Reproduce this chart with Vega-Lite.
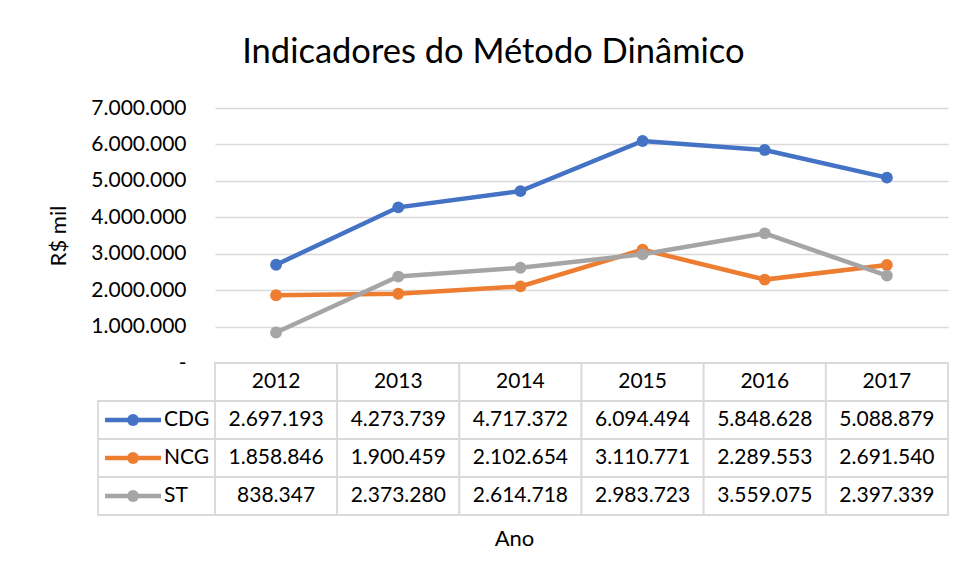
{
  "$schema": "https://vega.github.io/schema/vega-lite/v6.json",
  "padding": {"left": 47, "top": 34, "right": 16, "bottom": 10},
  "background": "white",
  "datasets": {
    "vals": [
      {"series": "CDG", "year": 2012, "value": 2697193},
      {"series": "CDG", "year": 2013, "value": 4273739},
      {"series": "CDG", "year": 2014, "value": 4717372},
      {"series": "CDG", "year": 2015, "value": 6094494},
      {"series": "CDG", "year": 2016, "value": 5848628},
      {"series": "CDG", "year": 2017, "value": 5088879},
      {"series": "NCG", "year": 2012, "value": 1858846},
      {"series": "NCG", "year": 2013, "value": 1900459},
      {"series": "NCG", "year": 2014, "value": 2102654},
      {"series": "NCG", "year": 2015, "value": 3110771},
      {"series": "NCG", "year": 2016, "value": 2289553},
      {"series": "NCG", "year": 2017, "value": 2691540},
      {"series": "ST", "year": 2012, "value": 838347},
      {"series": "ST", "year": 2013, "value": 2373280},
      {"series": "ST", "year": 2014, "value": 2614718},
      {"series": "ST", "year": 2015, "value": 2983723},
      {"series": "ST", "year": 2016, "value": 3559075},
      {"series": "ST", "year": 2017, "value": 2397339}
    ]
  },
  "title": {
    "text": "Indicadores do Método Dinâmico",
    "font": "Lato",
    "fontSize": 34.5,
    "fontWeight": "normal",
    "color": "#000000",
    "anchor": "middle",
    "offset": 27,
    "dx": -5
  },
  "bounds": "flush",
  "spacing": 0,
  "vconcat": [
    {
      "width": 733,
      "height": 255,
      "data": {"name": "vals"},
      "encoding": {
        "x": {"field": "year", "type": "quantitative", "scale": {"domain": [2011.5, 2017.5], "nice": false, "zero": false}, "axis": null},
        "y": {
          "field": "value", "type": "quantitative",
          "scale": {"domain": [0, 7000000], "nice": false},
          "axis": {
            "title": "R$ mil",
            "values": [0, 1000000, 2000000, 3000000, 4000000, 5000000, 6000000, 7000000],
            "labelExpr": "datum.value == 0 ? '-' : replace(format(datum.value, ','), regexp(',', 'g'), '.')",
            "grid": true, "gridColor": "#d9d9d9", "gridWidth": 1.3,
            "domain": false, "ticks": false,
            "labelPadding": 29, "labelFont": "Lato", "labelFontSize": 21, "labelColor": "#000000",
            "titleFont": "Lato", "titleFontSize": 22, "titleFontWeight": "normal", "titleColor": "#000000", "titlePadding": 20
          }
        },
        "color": {"field": "series", "type": "nominal", "scale": {"domain": ["CDG", "NCG", "ST"], "range": ["#4472C4", "#ED7D31", "#A5A5A5"]}, "legend": null}
      },
      "layer": [
        {"mark": {"type": "line", "strokeWidth": 4.5}},
        {"mark": {"type": "point", "filled": true, "size": 140, "opacity": 1}}
      ]
    },
    {
      "width": 733,
      "height": 152,
      "data": {"name": "vals"},
      "layer": [
        {
          "transform": [
            {"aggregate": [{"op": "count", "as": "n"}], "groupby": ["year"]},
            {"calculate": "datum.year - 0.5", "as": "x0"},
            {"calculate": "datum.year + 0.5", "as": "x1"},
            {"calculate": "'hdr'", "as": "row"}
          ],
          "mark": {"type": "rect", "fill": "white", "stroke": "#d9d9d9", "strokeWidth": 1.8},
          "encoding": {
            "x": {"field": "x0", "type": "quantitative", "scale": {"domain": [2011.5, 2017.5], "nice": false, "zero": false},
                  "axis": {"title": "Ano", "labels": false, "ticks": false, "domain": false, "grid": false, "titleX": 299, "titleY": 30, "titleBaseline": "alphabetic", "titleAlign": "center", "titleFont": "Lato", "titleFontSize": 22, "titleFontWeight": "normal", "titleColor": "#000000"}},
            "x2": {"field": "x1"},
            "y": {"field": "row", "type": "nominal", "scale": {"domain": ["hdr", "CDG", "NCG", "ST"], "paddingInner": 0, "paddingOuter": 0}, "axis": null}
          }
        },
        {
          "transform": [
            {"calculate": "datum.year - 0.5", "as": "x0"},
            {"calculate": "datum.year + 0.5", "as": "x1"}
          ],
          "mark": {"type": "rect", "fill": "white", "stroke": "#d9d9d9", "strokeWidth": 1.8},
          "encoding": {
            "x": {"field": "x0", "type": "quantitative",
                  "axis": {"title": "Ano", "labels": false, "ticks": false, "domain": false, "grid": false, "titleX": 299, "titleY": 30, "titleBaseline": "alphabetic", "titleAlign": "center", "titleFont": "Lato", "titleFontSize": 22, "titleFontWeight": "normal", "titleColor": "#000000"}},
            "x2": {"field": "x1"},
            "y": {"field": "series", "type": "nominal", "axis": null}
          }
        },
        {
          "transform": [{"aggregate": [{"op": "count", "as": "n"}], "groupby": ["series"]}],
          "mark": {"type": "rect", "fill": "white", "stroke": "#d9d9d9", "strokeWidth": 1.8},
          "encoding": {
            "x": {"datum": 2010.542, "type": "quantitative",
                  "axis": {"title": "Ano", "labels": false, "ticks": false, "domain": false, "grid": false, "titleX": 299, "titleY": 30, "titleBaseline": "alphabetic", "titleAlign": "center", "titleFont": "Lato", "titleFontSize": 22, "titleFontWeight": "normal", "titleColor": "#000000"}},
            "x2": {"datum": 2011.5},
            "y": {"field": "series", "type": "nominal", "axis": null}
          }
        },
        {
          "transform": [
            {"aggregate": [{"op": "count", "as": "n"}], "groupby": ["year"]},
            {"calculate": "'hdr'", "as": "row"}
          ],
          "mark": {"type": "text", "font": "Lato", "fontSize": 21, "color": "#000000", "align": "center", "baseline": "middle"},
          "encoding": {
            "x": {"field": "year", "type": "quantitative",
                  "axis": {"title": "Ano", "labels": false, "ticks": false, "domain": false, "grid": false, "titleX": 299, "titleY": 30, "titleBaseline": "alphabetic", "titleAlign": "center", "titleFont": "Lato", "titleFontSize": 22, "titleFontWeight": "normal", "titleColor": "#000000"}},
            "y": {"field": "row", "type": "nominal", "axis": null},
            "text": {"field": "year", "type": "nominal"}
          }
        },
        {
          "transform": [{"calculate": "replace(format(datum.value, ','), regexp(',', 'g'), '.')", "as": "label"}],
          "mark": {"type": "text", "font": "Lato", "fontSize": 21, "color": "#000000", "align": "center", "baseline": "middle"},
          "encoding": {
            "x": {"field": "year", "type": "quantitative",
                  "axis": {"title": "Ano", "labels": false, "ticks": false, "domain": false, "grid": false, "titleX": 299, "titleY": 30, "titleBaseline": "alphabetic", "titleAlign": "center", "titleFont": "Lato", "titleFontSize": 22, "titleFontWeight": "normal", "titleColor": "#000000"}},
            "y": {"field": "series", "type": "nominal", "axis": null},
            "text": {"field": "label", "type": "nominal"}
          }
        },
        {
          "transform": [{"aggregate": [{"op": "count", "as": "n"}], "groupby": ["series"]}],
          "mark": {"type": "rule", "strokeWidth": 4.5},
          "encoding": {
            "x": {"datum": 2010.6, "type": "quantitative",
                  "axis": {"title": "Ano", "labels": false, "ticks": false, "domain": false, "grid": false, "titleX": 299, "titleY": 30, "titleBaseline": "alphabetic", "titleAlign": "center", "titleFont": "Lato", "titleFontSize": 22, "titleFontWeight": "normal", "titleColor": "#000000"}},
            "x2": {"datum": 2011.058},
            "y": {"field": "series", "type": "nominal", "axis": null},
            "color": {"field": "series", "type": "nominal", "scale": {"domain": ["CDG", "NCG", "ST"], "range": ["#4472C4", "#ED7D31", "#A5A5A5"]}, "legend": null}
          }
        },
        {
          "transform": [{"aggregate": [{"op": "count", "as": "n"}], "groupby": ["series"]}],
          "mark": {"type": "point", "filled": true, "size": 140, "opacity": 1},
          "encoding": {
            "x": {"datum": 2010.829, "type": "quantitative",
                  "axis": {"title": "Ano", "labels": false, "ticks": false, "domain": false, "grid": false, "titleX": 299, "titleY": 30, "titleBaseline": "alphabetic", "titleAlign": "center", "titleFont": "Lato", "titleFontSize": 22, "titleFontWeight": "normal", "titleColor": "#000000"}},
            "y": {"field": "series", "type": "nominal", "axis": null},
            "color": {"field": "series", "type": "nominal", "scale": {"domain": ["CDG", "NCG", "ST"], "range": ["#4472C4", "#ED7D31", "#A5A5A5"]}, "legend": null}
          }
        },
        {
          "transform": [{"aggregate": [{"op": "count", "as": "n"}], "groupby": ["series"]}],
          "mark": {"type": "text", "font": "Lato", "fontSize": 21, "color": "#000000", "align": "left", "baseline": "middle"},
          "encoding": {
            "x": {"datum": 2011.083, "type": "quantitative",
                  "axis": {"title": "Ano", "labels": false, "ticks": false, "domain": false, "grid": false, "titleX": 299, "titleY": 30, "titleBaseline": "alphabetic", "titleAlign": "center", "titleFont": "Lato", "titleFontSize": 22, "titleFontWeight": "normal", "titleColor": "#000000"}},
            "y": {"field": "series", "type": "nominal", "axis": null},
            "text": {"field": "series", "type": "nominal"}
          }
        }
      ]
    }
  ],
  "config": {"view": {"stroke": null}, "font": "Lato"}
}
